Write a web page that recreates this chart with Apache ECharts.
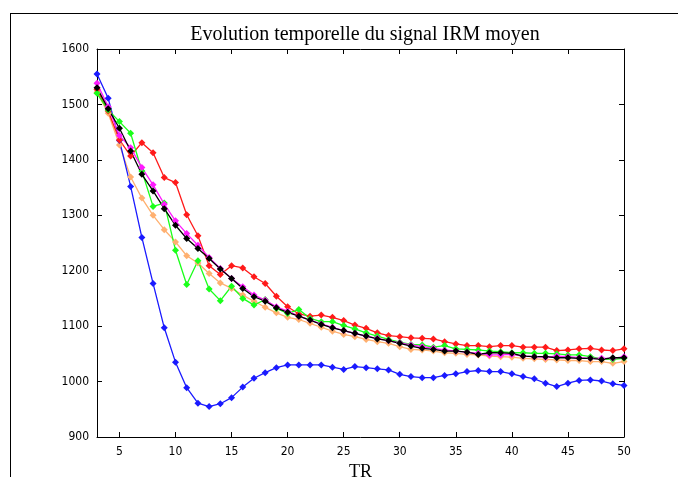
<!DOCTYPE html>
<html>
<head>
<meta charset="utf-8">
<script src="https://cdn.jsdelivr.net/npm/echarts@6/dist/echarts.min.js"></script>
<style>
  html, body { margin: 0; padding: 0; background: #fff; }
  #chart { width: 678px; height: 477px; }
</style>
</head>
<body>
<div id="chart"></div>
<script>
// TR de 3 à 50
var tr = [];
for (let t = 3; t <= 50; t++) tr.push(t);

var xTicks = [5, 10, 15, 20, 25, 30, 35, 40, 45, 50];

var serieBleue = [1555, 1511, 1435, 1352, 1260, 1177, 1097, 1035, 989, 961, 955, 960, 971, 990, 1006, 1016,
    1025, 1030, 1030, 1030, 1030, 1026, 1022, 1027, 1025, 1023, 1021, 1013, 1009, 1007, 1007, 1011,
    1014, 1018, 1020, 1018, 1018, 1014, 1009, 1005, 997, 991, 997, 1002, 1003, 1001, 996, 993];
var serieRouge = [1527, 1488, 1436, 1407, 1431, 1413, 1368, 1359, 1301, 1263, 1209, 1193, 1209, 1205, 1189, 1177,
    1154, 1135, 1122, 1118, 1120, 1116, 1110, 1102, 1096, 1088, 1083, 1081, 1079, 1078, 1077, 1072,
    1068, 1065, 1065, 1063, 1065, 1065, 1062, 1062, 1062, 1056, 1057, 1059, 1060, 1057, 1056, 1059];
var serieVerte = [1520, 1490, 1469, 1448, 1380, 1316, 1322, 1237, 1175, 1218, 1167, 1146, 1172, 1150, 1138, 1148,
    1132, 1123, 1130, 1114, 1108, 1108, 1101, 1095, 1088, 1082, 1076, 1071, 1067, 1066, 1062, 1065,
    1059, 1058, 1057, 1055, 1054, 1052, 1052, 1051, 1051, 1050, 1048, 1048, 1045, 1041, 1040, 1042];
var serieMagenta = [1538, 1496, 1444, 1422, 1386, 1355, 1320, 1290, 1267, 1246, 1224, 1204, 1186, 1171, 1156, 1147,
    1135, 1127, 1118, 1111, 1104, 1098, 1092, 1087, 1082, 1078, 1074, 1070, 1066, 1063, 1060, 1057,
    1055, 1053, 1051, 1048, 1048, 1049, 1046, 1045, 1044, 1046, 1045, 1043, 1042, 1042, 1042, 1045];
var serieOrange = [1522, 1484, 1427, 1369, 1331, 1300, 1274, 1252, 1227, 1214, 1195, 1178, 1168, 1156, 1145, 1134,
    1124, 1116, 1112, 1105, 1098, 1091, 1085, 1081, 1076, 1072, 1069, 1063, 1058, 1057, 1055, 1052,
    1051, 1049, 1048, 1046, 1045, 1044, 1042, 1041, 1040, 1039, 1038, 1038, 1036, 1036, 1033, 1036];
var serieNoire = [1530, 1492, 1457, 1416, 1374, 1344, 1312, 1282, 1258, 1240, 1222, 1203, 1186, 1168, 1153, 1145,
    1133, 1125, 1118, 1111, 1103, 1097, 1092, 1087, 1082, 1077, 1074, 1069, 1064, 1060, 1058, 1055,
    1055, 1053, 1049, 1052, 1052, 1051, 1046, 1045, 1045, 1043, 1043, 1042, 1042, 1040, 1043, 1043];

var chart = echarts.init(document.getElementById('chart'));

function serie(nom, data, couleur) {
    return {
        name: nom,
        type: 'line',
        data: tr.map((t, i) => [t, data[i]]),
        symbol: 'diamond',
        symbolSize: 7,
        showSymbol: true,
        lineStyle: { color: couleur, width: 1.3 },
        itemStyle: { color: couleur },
        animation: false
    };
}

var labelFont = { color: '#000', fontSize: 12, fontFamily: '"Liberation Sans Narrow", "DejaVu Sans Condensed", sans-serif' };

var option = {
    backgroundColor: '#fff',
    title: {
        text: 'Evolution temporelle du signal IRM moyen',
        left: 360,
        textAlign: 'center',
        top: 20,
        textStyle: { fontFamily: '"Liberation Serif", "DejaVu Serif", serif', fontWeight: 'normal', fontSize: 20, color: '#000' }
    },
    graphic: [
        { type: 'line', shape: { x1: 10, y1: 13.5, x2: 678, y2: 13.5 }, style: { stroke: '#000', lineWidth: 1 } },
        { type: 'line', shape: { x1: 10.5, y1: 13, x2: 10.5, y2: 477 }, style: { stroke: '#000', lineWidth: 1 } }
    ],
    grid: { left: 97, right: 54, top: 49, bottom: 40, outerBoundsMode: 'none' },
    xAxis: [
        {
            type: 'value', min: 3, max: 50, position: 'bottom',
            name: 'TR', nameLocation: 'middle', nameGap: 21,
            nameTextStyle: { fontFamily: '"Liberation Serif", "DejaVu Serif", serif', fontSize: 18, color: '#000' },
            axisLine: { lineStyle: { color: '#000' } },
            axisTick: { inside: true, length: 5, customValues: xTicks, lineStyle: { color: '#000' } },
            axisLabel: Object.assign({ customValues: xTicks, margin: 9 }, labelFont),
            splitLine: { show: false }
        },
        {
            type: 'value', min: 3, max: 50, position: 'top',
            axisLine: { lineStyle: { color: '#000' } },
            axisTick: { inside: true, length: 5, customValues: xTicks, lineStyle: { color: '#000' } },
            axisLabel: { show: false },
            splitLine: { show: false }
        }
    ],
    yAxis: [
        {
            type: 'value', min: 900, max: 1600, interval: 100, position: 'left',
            axisLine: { show: true, lineStyle: { color: '#000' } },
            axisTick: { inside: true, length: 5, lineStyle: { color: '#000' } },
            axisLabel: Object.assign({ margin: 8, formatter: function (v) { return String(v); } }, labelFont),
            splitLine: { show: false }
        },
        {
            type: 'value', min: 900, max: 1600, interval: 100, position: 'right',
            axisLine: { show: true, lineStyle: { color: '#000' } },
            axisTick: { inside: true, length: 5, lineStyle: { color: '#000' } },
            axisLabel: { show: false },
            splitLine: { show: false }
        }
    ],
    series: [
        serie('orange', serieOrange, '#ffb070'),
        serie('bleu', serieBleue, '#1a1aff'),
        serie('rouge', serieRouge, '#ff1a1a'),
        serie('vert', serieVerte, '#1aff1a'),
        serie('magenta', serieMagenta, '#ff1aff'),
        serie('noir', serieNoire, '#000000')
    ]
};

chart.setOption(option);

window.addEventListener('resize', function () {
    chart.resize();
});
</script>
</body>
</html>
